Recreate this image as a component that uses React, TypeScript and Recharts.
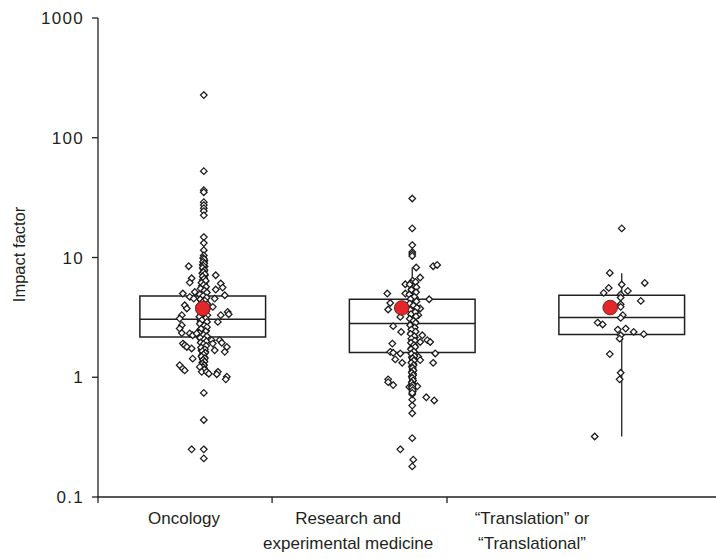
import { ComposedChart, XAxis, YAxis, Scatter, ReferenceArea, ReferenceLine } from 'recharts'

const CATEGORIES = [['Oncology'], ['Research and', 'experimental medicine'], ['\u201cTranslation\u201d or', '\u201cTranslational\u201d']]
const CAT_X = [0.5, 1.5, 2.5]
const Q1 = [2.17, 1.61, 2.27]
const MEDIAN = [3.05, 2.81, 3.15]
const Q3 = [4.78, 4.48, 4.84]
const WHISKER_LO = [1.1, 0.58, 0.32]
const WHISKER_HI = [9.9, 8.25, 7.4]
const MEAN = [3.75, 3.79, 3.82]
const MEAN_X = [0.5, 1.45, 2.445]
const Y_TICKS = [0.1, 1, 10, 100, 1000]
const X_TICKS = [0, 0.831, 1.666]

// [jitter, impact factor]
const ONCOLOGY: [number, number][] = [
  [0.005, 227], [0.005, 52.6], [0.005, 36.5], [0.005, 35.1], [0.005, 29.0], [0.005, 27.4], [0.005, 25.8],
  [0.005, 24.4], [0.005, 22.5], [0.005, 14.8], [0.005, 13.2], [0.005, 11.5], [0.005, 10.4],
  [0.002, 9.9], [0.008, 9.4], [0.004, 9.1], [0.0, 8.7], [0.009, 8.4], [0.003, 8.0], [0.006, 7.7], [-0.002, 7.4],
  [0.010, 7.1], [0.004, 6.8], [0.0, 6.5], [0.012, 6.3], [0.006, 6.0], [-0.004, 5.8], [0.010, 5.6], [0.002, 5.4],
  [0.015, 5.2], [-0.006, 5.0], [0.008, 4.85], [0.0, 4.7], [0.014, 4.55], [-0.008, 4.4], [0.006, 4.3], [0.018, 4.15],
  [-0.004, 4.0], [0.010, 3.9], [0.002, 3.8], [-0.010, 3.65], [0.016, 3.55], [0.004, 3.45], [-0.006, 3.35],
  [0.012, 3.25], [0.0, 3.15], [0.008, 3.05], [-0.010, 2.95], [0.018, 2.9], [0.004, 2.82], [-0.004, 2.74],
  [0.012, 2.66], [0.0, 2.58], [-0.012, 2.5], [0.016, 2.45], [0.006, 2.38], [-0.006, 2.3], [0.010, 2.24],
  [0.002, 2.17], [-0.010, 2.1], [0.014, 2.05], [0.004, 1.98], [-0.004, 1.92], [0.010, 1.86], [0.0, 1.8],
  [0.006, 1.74], [-0.006, 1.68], [0.012, 1.63], [0.002, 1.57], [-0.004, 1.52], [0.008, 1.47], [0.0, 1.42],
  [0.006, 1.37], [-0.002, 1.33], [0.004, 1.28], [0.0, 1.24], [0.006, 1.19],
  [0.006, 9.7], [0.002, 9.2], [0.007, 8.9], [0.003, 8.55], [0.0, 8.2], [0.008, 7.85], [0.004, 7.55], [0.010, 7.25],
  [0.0, 6.95], [0.007, 6.65], [0.014, 6.4], [-0.006, 6.15], [0.004, 5.9], [0.016, 5.7], [-0.010, 5.5], [0.008, 5.3],
  [0.020, 5.1], [-0.014, 4.92], [0.002, 4.78], [0.018, 4.62], [-0.012, 4.48], [0.010, 4.36], [-0.002, 4.22],
  [0.022, 4.08], [-0.016, 3.96], [0.006, 3.84], [0.020, 3.72], [-0.014, 3.6], [0.010, 3.5], [-0.004, 3.4],
  [0.022, 3.3], [-0.016, 3.2], [0.014, 3.1], [-0.004, 3.0], [0.020, 2.9], [-0.014, 2.8], [0.008, 2.7],
  [0.020, 2.62], [-0.008, 2.54], [0.014, 2.42], [-0.016, 2.34], [0.004, 2.26], [0.020, 2.2], [-0.012, 2.13],
  [0.008, 2.07], [0.018, 2.0], [-0.010, 1.95], [0.004, 1.89], [0.016, 1.83], [-0.008, 1.77], [0.010, 1.71],
  [-0.002, 1.65], [0.012, 1.6], [0.004, 1.55], [-0.006, 1.49], [0.010, 1.44], [0.002, 1.4], [0.008, 1.35],
  [0.0, 1.3], [0.006, 1.26], [0.002, 1.21], [0.008, 1.16],
  [-0.067, 8.46], [-0.053, 6.71], [-0.062, 6.17], [0.062, 7.11], [0.086, 6.06], [0.095, 5.61], [0.062, 5.40],
  [0.105, 4.84], [-0.095, 5.0], [-0.038, 5.15], [-0.062, 4.69], [-0.043, 4.54], [0.057, 4.54], [-0.086, 3.99],
  [-0.076, 3.75], [0.048, 3.87], [0.119, 3.51], [0.124, 3.36], [0.086, 3.30], [-0.100, 3.30], [-0.110, 3.09],
  [0.072, 2.90], [-0.100, 2.72], [-0.110, 2.55], [-0.100, 2.34], [-0.062, 2.32], [-0.048, 2.24], [-0.029, 2.32],
  [-0.095, 1.91], [-0.086, 1.85], [-0.076, 1.79], [-0.053, 1.74], [0.043, 2.04], [0.048, 1.91], [0.081, 2.04],
  [0.091, 1.94], [0.115, 1.79], [0.105, 1.63], [0.057, 1.68], [-0.048, 1.43], [-0.110, 1.26], [-0.095, 1.18],
  [-0.086, 1.14], [-0.014, 1.22], [-0.005, 1.11], [0.019, 1.11], [0.029, 1.07], [0.072, 1.11], [0.067, 1.06],
  [0.115, 1.01], [0.110, 0.96], [0.005, 0.74], [0.005, 0.44], [-0.053, 0.25], [0.005, 0.25], [0.005, 0.21],
]

const RESEARCH: [number, number][] = [
  [0.0, 31.1], [0.0, 17.5], [0.0, 12.7], [0.0, 11.1], [0.0, 10.7], [0.0, 10.3],
  [0.019, 8.25], [0.100, 8.46], [0.119, 8.66], [0.038, 6.80], [-0.033, 5.98], [-0.119, 5.0], [-0.033, 5.0],
  [0.081, 4.48], [-0.105, 4.17], [-0.115, 3.68], [0.014, 3.87], [0.038, 3.75], [0.029, 3.30], [-0.057, 3.19],
  [-0.091, 2.67], [-0.053, 2.39], [0.048, 2.24], [0.038, 1.97], [0.072, 2.04], [0.086, 1.97], [-0.095, 1.91],
  [-0.105, 1.63], [-0.091, 1.60], [-0.057, 1.58], [0.110, 1.58], [0.029, 1.48], [0.038, 1.39], [0.100, 1.32],
  [-0.048, 1.32], [-0.081, 1.41], [-0.115, 0.96], [-0.115, 0.91], [-0.091, 0.86], [-0.014, 0.83], [0.024, 0.84],
  [0.067, 0.68], [0.105, 0.64], [0.0, 0.65], [0.0, 0.58], [0.0, 0.50], [0.0, 0.31], [-0.057, 0.25],
  [0.005, 0.205], [0.0, 0.18],
  [0.002, 6.4], [-0.006, 6.1], [0.008, 5.8], [0.0, 5.5], [0.012, 5.25], [-0.008, 5.0], [0.004, 4.8], [0.014, 4.6],
  [-0.004, 4.4], [0.008, 4.2], [0.0, 4.05], [0.016, 3.9], [-0.008, 3.72], [0.006, 3.58], [0.012, 3.42],
  [-0.002, 3.3], [0.008, 3.15], [0.0, 3.02], [0.014, 2.9], [-0.006, 2.78], [0.006, 2.66], [0.0, 2.55],
  [0.010, 2.45], [-0.004, 2.35], [0.004, 2.25], [0.012, 2.15], [-0.002, 2.06], [0.006, 1.98], [0.0, 1.9],
  [0.010, 1.82], [-0.004, 1.75], [0.004, 1.68], [0.0, 1.61], [0.008, 1.54], [-0.002, 1.47], [0.004, 1.41],
  [0.0, 1.35], [0.006, 1.29], [-0.002, 1.23], [0.002, 1.17], [0.0, 1.12], [0.004, 1.07], [-0.002, 1.02],
  [0.002, 0.97], [0.0, 0.92], [0.002, 0.88], [-0.002, 0.84], [0.0, 0.8], [0.002, 0.76], [0.0, 0.72],
  [0.016, 6.25], [-0.012, 5.95], [0.020, 5.65], [-0.004, 5.38], [0.018, 5.12], [-0.014, 4.9], [0.010, 4.7],
  [-0.008, 4.5], [0.020, 4.3], [-0.012, 4.12], [0.006, 3.97], [0.022, 3.8], [-0.010, 3.65], [0.014, 3.5],
  [-0.006, 3.36], [0.018, 3.22], [-0.012, 3.08], [0.006, 2.96], [0.016, 2.84], [-0.010, 2.72], [0.012, 2.6],
  [-0.004, 2.5], [0.016, 2.4], [-0.008, 2.3], [0.010, 2.2], [-0.004, 2.1], [0.012, 2.02], [-0.006, 1.94],
  [0.008, 1.86], [0.014, 1.79], [-0.006, 1.71], [0.008, 1.64], [-0.004, 1.57], [0.010, 1.5], [0.002, 1.44],
  [0.008, 1.38], [-0.004, 1.32], [0.006, 1.26], [0.002, 1.2], [0.006, 1.14], [-0.002, 1.09], [0.004, 1.04],
  [0.0, 0.99], [0.004, 0.94], [-0.002, 0.9], [0.002, 0.86], [0.0, 0.82], [0.002, 0.78], [0.0, 0.74],
]

const TRANSLATION: [number, number][] = [
  [0.0, 17.5], [-0.057, 7.43], [0.110, 6.13], [0.0, 5.95], [-0.062, 5.57], [-0.086, 5.06], [0.029, 5.26],
  [-0.005, 4.91], [-0.005, 4.63], [0.091, 4.34], [-0.005, 4.07], [-0.005, 3.87], [0.005, 3.30], [-0.005, 3.13],
  [-0.115, 2.86], [-0.091, 2.76], [-0.019, 2.50], [0.019, 2.55], [0.057, 2.39], [0.105, 2.29], [-0.005, 2.24],
  [-0.010, 2.10], [-0.057, 1.56], [-0.005, 1.09], [-0.010, 0.96], [-0.129, 0.32],
]

const GROUPS = [ONCOLOGY, RESEARCH, TRANSLATION]
const BOX_HALF = 0.3
const INK = '#231f20'
const FONT = '"Liberation Sans", Arial, Helvetica, sans-serif'
const LABEL_SHIFT = [86, 76, 85]

const pointData = GROUPS.flatMap((g, i) => g.map(([j, v]) => ({ x: CAT_X[i] + j, y: v })))
const meanData = MEAN.map((m, i) => ({ x: MEAN_X[i], y: m }))

function Diamond(props: any) {
  const { cx, cy } = props
  if (cx == null || cy == null) return null
  const r = 3.3
  return (
    <path
      d={`M${cx},${cy - r}L${cx + r},${cy}L${cx},${cy + r}L${cx - r},${cy}Z`}
      fill="#fff"
      stroke="#1a1a1a"
      strokeWidth={1.25}
    />
  )
}

function MeanDot(props: any) {
  const { cx, cy } = props
  if (cx == null || cy == null) return null
  return <circle cx={cx} cy={cy} r={7.3} fill="#e3262a" stroke="#6e1414" strokeWidth={0.9} />
}

function CatTick(props: any) {
  const { x, y, index } = props
  const lines = CATEGORIES[index] ?? []
  const lx = x + (LABEL_SHIFT[index] ?? 0)
  return (
    <text x={lx} y={y} textAnchor="middle" fontSize={17} fill={INK} fontFamily={FONT}>
      {lines.map((l, i) => (
        <tspan key={i} x={lx} dy={i === 0 ? 19 : 25}>{l}</tspan>
      ))}
    </text>
  )
}

export default function App() {
  return (
    <div style={{ position: 'absolute', left: 0, top: 0, background: '#fff', fontFamily: FONT }}>
      <ComposedChart width={716} height={559} margin={{ top: 18, right: 0, bottom: 0, left: 0 }}>
        <XAxis
          type="number"
          dataKey="x"
          domain={[0, 2.95]}
          ticks={X_TICKS}
          interval={0}
          allowDataOverflow
          height={62}
          tickSize={6}
          axisLine={{ stroke: INK, strokeWidth: 1.3 }}
          tickLine={{ stroke: INK, strokeWidth: 1.3 }}
          tick={CatTick}
        />
        <YAxis
          type="number"
          dataKey="y"
          scale="log"
          domain={[0.1, 1000]}
          ticks={Y_TICKS}
          interval={0}
          allowDataOverflow
          width={98}
          tickSize={6}
          tickMargin={8}
          axisLine={{ stroke: INK, strokeWidth: 1.3 }}
          tickLine={{ stroke: INK, strokeWidth: 1.3 }}
          tick={{ fontSize: 17, fill: INK, fontFamily: FONT, letterSpacing: 1.3 }}
          tickFormatter={(v) => String(v)}
          label={{ value: 'Impact factor', angle: -90, position: 'center', dx: -30, dy: -3, fontSize: 16.5, fill: INK, fontFamily: FONT }}
        />
        {CAT_X.map((c, i) => (
          <ReferenceArea
            key={'box' + i}
            x1={c - BOX_HALF}
            x2={c + BOX_HALF}
            y1={Q1[i]}
            y2={Q3[i]}
            fill="none"
            stroke={INK}
            strokeWidth={1.5}
          />
        ))}
        {CAT_X.map((c, i) => (
          <ReferenceLine
            key={'med' + i}
            segment={[{ x: c - BOX_HALF, y: MEDIAN[i] }, { x: c + BOX_HALF, y: MEDIAN[i] }]}
            stroke={INK}
            strokeWidth={1.5}
          />
        ))}
        {CAT_X.map((c, i) => (
          <ReferenceLine
            key={'wlo' + i}
            segment={[{ x: c, y: WHISKER_LO[i] }, { x: c, y: Q1[i] }]}
            stroke={INK}
            strokeWidth={1.3}
          />
        ))}
        {CAT_X.map((c, i) => (
          <ReferenceLine
            key={'whi' + i}
            segment={[{ x: c, y: Q3[i] }, { x: c, y: WHISKER_HI[i] }]}
            stroke={INK}
            strokeWidth={1.3}
          />
        ))}
        <Scatter data={pointData} shape={Diamond} isAnimationActive={false} />
        <Scatter data={meanData} shape={MeanDot} isAnimationActive={false} />
      </ComposedChart>
    </div>
  )
}
